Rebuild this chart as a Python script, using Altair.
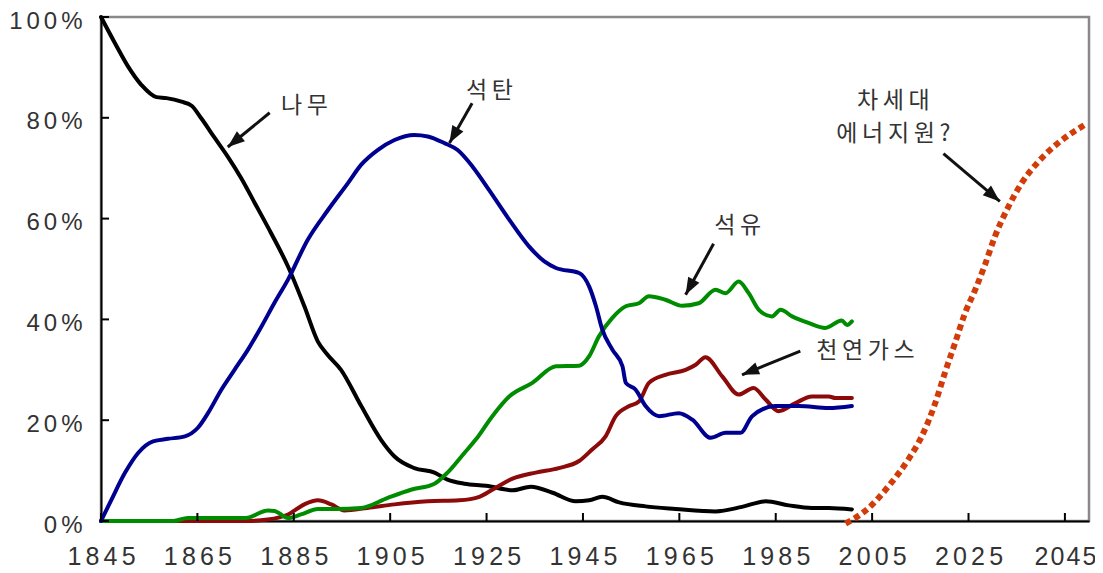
import math
import altair as alt
import pandas as pd

# ---------------- data ----------------
wood_years = [1845, 1847.9, 1850.6, 1853.4, 1856.5, 1858.6, 1861.7, 1863.8, 1865.8, 1868.6, 1871.3,
              1874.1, 1876.9, 1880.3, 1883.8, 1887.2, 1890, 1892, 1894.8, 1899, 1903.1, 1905.9,
              1910, 1914.2, 1916.9, 1920.4, 1924.9, 1930.4, 1934.2, 1938.7, 1943.5, 1946.3, 1949,
              1952.5, 1958, 1964.2, 1972.5, 1978, 1982.9, 1987.7, 1992.5, 1996, 2000.8]
wood = [100, 94.8, 90.2, 86.5, 84.1, 83.9, 83.2, 82.4, 79.9, 76, 72.3,
        68, 63.1, 57.1, 50.5, 42.6, 35.6, 33, 30, 22.8, 16.1, 12.8,
        10.5, 9.6, 8.2, 7.4, 7.0, 6.1, 6.8, 5.6, 3.9, 4.1, 4.8,
        3.7, 2.9, 2.4, 1.9, 2.8, 3.9, 3.1, 2.6, 2.6, 2.3]

coal_years = [1845, 1847.2, 1850, 1852.7, 1855.8, 1858.9, 1862.4, 1865.1, 1867.2, 1870, 1872.7,
              1875.5, 1878.3, 1881, 1883.8, 1887.9, 1892.1, 1896.2, 1899, 1902.4, 1905.9, 1910,
              1912.8, 1916.2, 1919, 1922.1, 1925.5, 1929.7, 1933.8, 1937, 1939.4, 1944.2, 1946.3,
              1947.7, 1949, 1951.1, 1953.2, 1953.9, 1955.9, 1958, 1960.8, 1964.9, 1967.7, 1971.5,
              1974.6, 1977.7, 1980.1, 1984.9, 1989.8, 1996, 2000.8]
coal = [0, 4.3, 9.6, 13.5, 15.8, 16.3, 16.8, 18.5, 21.4, 26.1, 30,
        34, 38.6, 43.3, 47.9, 55.8, 61.7, 67, 70.7, 73.6, 75.6, 76.6,
        76.3, 75, 73.6, 70.3, 65.7, 59.8, 54.5, 51.5, 50.2, 49.2, 46.5,
        42.6, 38, 34, 30.7, 27.4, 26.1, 22.8, 20.8, 21.4, 20.1, 16.5,
        17.5, 17.5, 20.8, 22.8, 22.8, 22.4, 22.8]

oil_years = [1845, 1860, 1863, 1875, 1879.6, 1881, 1883.8, 1886.5, 1890, 1893.7, 1899, 1904.5,
             1909.3, 1914.2, 1916.9, 1920.4, 1922.8, 1926.2, 1929.7, 1934.5, 1939.4, 1944.2,
             1946.3, 1948.3, 1951.1, 1953.9, 1956.6, 1958.7, 1962.1, 1965.6, 1969, 1972.5,
             1974.6, 1977.3, 1979.4, 1981.5, 1984.2, 1986, 1988.4, 1991.8, 1995.3, 1998.7,
             1999.8, 2000.8]
oil = [0, 0, 0.6, 0.6, 2.1, 2.0, 0.6, 1.3, 2.4, 2.4, 2.6, 4.6,
       6.2, 7.4, 9.6, 13.5, 16.2, 20.8, 24.7, 27.4, 30.7, 30.8,
       32.7, 36.6, 40.3, 42.6, 43.2, 44.6, 43.9, 42.7, 43.2, 45.9,
       45.2, 47.5, 45.2, 41.9, 40.6, 41.9, 40.6, 39.3, 38.3, 39.8,
       38.9, 39.6]

gas_years = [1845, 1875, 1879.6, 1883.8, 1887.2, 1890, 1892.8, 1895.5, 1900.3, 1905.9, 1912.8,
             1919.3, 1923.5, 1926.2, 1930.4, 1935.2, 1940, 1944.2, 1946.9, 1949.7, 1951.8,
             1954.6, 1956.6, 1958.7, 1962.1, 1966.3, 1968.4, 1970.4, 1973.9, 1977.3, 1980.4,
             1982.9, 1985.6, 1989.1, 1992.5, 1996, 1997.4, 2000.8]
gas = [0, 0, 0.3, 1.3, 3.3, 4.1, 3.3, 2.1, 2.6, 3.3, 3.9,
       4.1, 4.8, 6.2, 8.4, 9.6, 10.5, 11.9, 14.2, 16.8, 20.8,
       22.8, 23.7, 27.4, 29, 30, 31, 32.5, 28.7, 25.1, 26.4,
       24.1, 21.8, 23.4, 24.7, 24.7, 24.4, 24.4]

future_years = [1999.5, 2004.3, 2008.4, 2012.5, 2015.3, 2018.1, 2020.1, 2022.2, 2024.3, 2026.4,
                2028.4, 2030.5, 2033.3, 2036, 2039.5, 2043.6, 2049.1]
future = [-0.5, 2.6, 6.9, 12.2, 16.8, 23.4, 29.4, 35.3, 41.3, 45.9,
          50.8, 56.5, 62.4, 67, 71.3, 75, 78.6]

x_ticks = [1845, 1865, 1885, 1905, 1925, 1945, 1965, 1985, 2005, 2025, 2045]
y_ticks = [0, 20, 40, 60, 80, 100]

label_texts = ["나무", "석탄", "석유", "천연가스", "차세대", "에너지원?"]
label_x = [1887.2, 1925.6, 1977.1, 2003.6, 2009.4, 2009.4]
label_y = [82.4, 85.3, 58.6, 33.8, 83.3, 76.8]

arrow_x0 = [1880.0, 1922.0, 1972.1, 1990.1, 2019.8]
arrow_y0 = [81.0, 82.9, 55.0, 33.7, 72.9]
arrow_x1 = [1871.3, 1917.3, 1966.3, 1978.0, 2031.5]
arrow_y1 = [74.2, 75.0, 44.9, 29.0, 63.4]

# ---------------- layout / style ----------------
X0, X1 = 1845, 2050
W, H = 988, 504
TICK = 8
SP = "\u2006"          # six-per-em space used as letter spacing
HS = "\u200a"          # hair space (narrower, for the label at the right edge)
TS = "\u2009"          # thin space for Korean labels
LABEL_FONT = "Liberation Sans"
KR_FONT = "Noto Sans CJK KR"

xs = alt.Scale(domain=[X0, X1], nice=False, zero=False)
ys = alt.Scale(domain=[0, 100], nice=False)

x_label_expr = ("datum.value >= 2045 ? join(split(datum.label, ''), '" + HS + "') : "
                "join(split(datum.label, ''), '" + SP + "')")

axis_x_main = alt.Axis(values=x_ticks, format="d", ticks=False, grid=False, title=None,
                       domainColor="#000000", domainWidth=2, labelFont=LABEL_FONT,
                       labelFontSize=25, labelColor="#333333", labelPadding=23,
                       labelFlush=False, labelOverlap=False, labelBound=False,
                       labelExpr=x_label_expr, orient="bottom")
axis_y_main = alt.Axis(values=y_ticks, ticks=False, grid=False, title=None,
                       domainColor="#000000", domainWidth=2, labelFont=LABEL_FONT,
                       labelFontSize=24, labelColor="#333333", labelPadding=19, labelOffset=4,
                       labelFlush=False, labelOverlap=False, labelBound=False,
                       labelExpr="join(split(datum.value + '%', ''), '" + SP + "')", orient="left")


def line_layer(years, vals, color, x_axis=None, y_axis=None, dash=None, width=4):
    df = pd.DataFrame({"year": years, "share": vals})
    kw = dict(color=color, strokeWidth=width, interpolate="monotone")
    if dash:
        kw.update(strokeDash=dash, strokeCap="butt")
    else:
        kw.update(strokeCap="round", strokeJoin="round")
    return alt.Chart(df).mark_line(**kw).encode(
        x=alt.X("year:Q", scale=xs, axis=x_axis),
        y=alt.Y("share:Q", scale=ys, axis=y_axis),
    )


wood_l = line_layer(wood_years, wood, "#000000", axis_x_main, axis_y_main)
coal_l = line_layer(coal_years, coal, "#000090")
oil_l = line_layer(oil_years, oil, "#008c00")
gas_l = line_layer(gas_years, gas, "#8c0a0a")
future_l = line_layer(future_years, future, "#d23c08", dash=[6, 4], width=6)

# inward-pointing ticks (positions from the tick lists via the scales)
xt = alt.Chart(pd.DataFrame({"t": x_ticks})).mark_rule(color="#000000", strokeWidth=2).encode(
    x=alt.X("t:Q", scale=xs, axis=None), y=alt.value(H), y2=alt.value(H - TICK))
yt = alt.Chart(pd.DataFrame({"t": y_ticks})).mark_rule(color="#000000", strokeWidth=2).encode(
    y=alt.Y("t:Q", scale=ys, axis=None), x=alt.value(0), x2=alt.value(TICK))

# annotations
lab_df = pd.DataFrame({"x": label_x, "y": label_y,
                       "t": [TS.join(list(s)) for s in label_texts]})
labels = alt.Chart(lab_df).mark_text(font=KR_FONT, fontSize=23, color="#333333",
                                     align="center", baseline="middle").encode(
    x=alt.X("x:Q", scale=xs, axis=None), y=alt.Y("y:Q", scale=ys, axis=None), text="t:N")

angles = []
for a, b, c, d in zip(arrow_x0, arrow_y0, arrow_x1, arrow_y1):
    dx = (c - a) * W / (X1 - X0)
    dy = -(d - b) * H / 100.0
    angles.append(math.degrees(math.atan2(dx, -dy)) % 360)
arr_df = pd.DataFrame({"x0": arrow_x0, "y0": arrow_y0, "x1": arrow_x1, "y1": arrow_y1,
                       "ang": angles})
shafts = alt.Chart(arr_df).mark_rule(color="#111111", strokeWidth=3).encode(
    x=alt.X("x0:Q", scale=xs, axis=None), y=alt.Y("y0:Q", scale=ys, axis=None),
    x2="x1:Q", y2="y1:Q")
heads = alt.Chart(arr_df).mark_point(shape="M0,0L0.75,2L-0.75,2Z", filled=True, size=289,
                                     color="#111111", opacity=1, strokeWidth=0).encode(
    x=alt.X("x1:Q", scale=xs, axis=None), y=alt.Y("y1:Q", scale=ys, axis=None),
    angle=alt.Angle("ang:Q", scale=None))

chart = alt.layer(wood_l, future_l, gas_l, oil_l, coal_l, xt, yt, shafts, heads, labels).resolve_axis(
    x="independent", y="independent"
).properties(
    width=W, height=H,
    padding={"left": 93, "top": 9, "right": 6, "bottom": 50},
    autosize=alt.AutoSizeParams(type="none"),
    background="#ffffff",
).configure_view(stroke="#888888", strokeWidth=2.5)

chart.save("out.html", embed_options={"renderer": "svg", "actions": False})
